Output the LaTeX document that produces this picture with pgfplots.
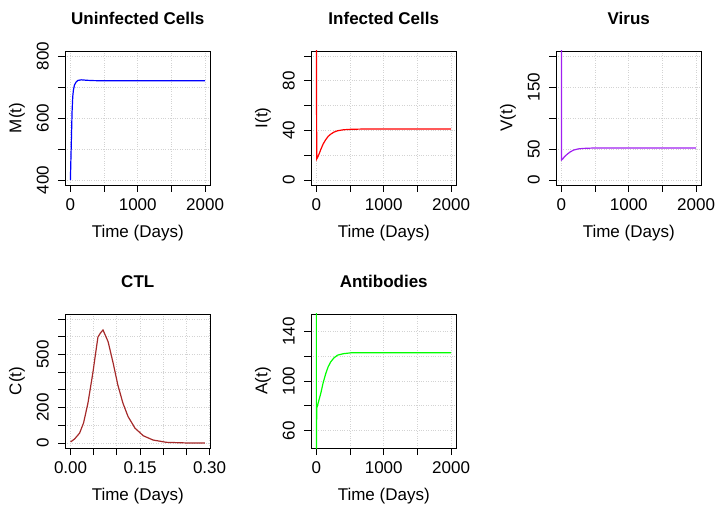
\documentclass[border=0pt]{standalone}
\usepackage{fontspec}
\setmainfont{Liberation Sans}
\usepackage{pgfplots}
\pgfplotsset{compat=1.18}
\definecolor{Rpurple}{HTML}{A020F0}
\definecolor{Rbrown}{HTML}{A52A2A}
\definecolor{Rgreen}{HTML}{00FF00}
\definecolor{Rgrid}{HTML}{D3D3D3}

\pgfplotsset{
  rpanel/.style={
    scale only axis, width=145.5bp, height=134bp,
    axis line style={black, line width=0.9bp},
    every tick/.style={black, line width=0.9bp},
    major tick length=7bp, tick align=outside,
    xtick pos=bottom, ytick pos=left,
    grid=major, grid style={Rgrid, dotted, line width=0.8bp},
    tick label style={font=\fontsize{17bp}{20bp}\selectfont},
    label style={font=\fontsize{17bp}{20bp}\selectfont},
    title style={font=\fontsize{17bp}{20bp}\selectfont\bfseries,
      at={(axis description cs:0.5,1.2)}, anchor=center},
    xlabel style={at={(axis description cs:0.5,-0.358)}, anchor=center},
    ylabel style={at={(axis description cs:-0.33,0.5)}, anchor=center},
    yticklabel style={xshift=-9bp, rotate=90, anchor=south, inner sep=0pt},
    xticklabel style={anchor=north, inner sep=0pt, yshift=-6bp},
    xlabel={Time (Days)},
    xmin=-80, xmax=2080,
    xtick={0,500,1000,1500,2000}, xticklabels={0,,1000,,2000},
    clip=true,
  }
}

\begin{document}
\begin{tikzpicture}
\path[use as bounding box] (0,0) rectangle (717bp,510bp);

% uninfected cells
\begin{axis}[rpanel, at={(65bp,325bp)}, anchor=south west,
  title={Uninfected Cells}, ylabel={M(t)},
  ymin=384, ymax=816,
  ytick={400,500,600,700,800}, yticklabels={400,,600,,800}]
\addplot[blue, line width=1.2bp] coordinates {
  (0,400)(8,470)(15,531)(25,620)(35,669)(45,690)(60,706)(85,716)(110,721)
  (160,723)(250,721.5)(350,720.5)(500,720)(1000,720)(2000,720)};
\end{axis}

% infected cells
\begin{axis}[rpanel, at={(311bp,325bp)}, anchor=south west,
  title={Infected Cells}, ylabel={I(t)},
  ymin=-4, ymax=104,
  ytick={0,20,40,60,80,100}, yticklabels={0,,40,,80,}]
\addplot[red, line width=1.2bp] coordinates {
  (0,110)(5,17)(20,18.5)(40,21)(65,24.6)(100,29)(139,32.6)(175,35.2)(214,37)
  (260,38.6)(313,39.7)(400,40.5)(512,40.9)(700,41.1)(2000,41.1)};
\end{axis}

% virus
\begin{axis}[rpanel, at={(556bp,325bp)}, anchor=south west,
  title={Virus}, ylabel={V(t)},
  ymin=-8, ymax=208,
  ytick={0,50,100,150,200}, yticklabels={0,50,,150,}]
\addplot[Rpurple, line width=1.2bp] coordinates {
  (0,215)(3,32.4)(20,34)(45,37.5)(85,41.5)(130,45.3)(184,48.4)(250,50.2)
  (333,51)(450,51.5)(600,51.6)(2000,51.6)};
\end{axis}

% CTL
\begin{axis}[rpanel, at={(65bp,62bp)}, anchor=south west,
  title={CTL}, ylabel={C(t)},
  xmin=-0.012, xmax=0.302,
  xtick={0,0.05,0.10,0.15,0.20,0.25,0.30},
  xticklabels={0.00,,,0.15,,,0.30},
  ymin=-28, ymax=728,
  ytick={0,100,200,300,400,500,600,700}, yticklabels={0,,200,,,500,,}]
\addplot[Rbrown, line width=1.2bp] coordinates {
  (0,6)(0.0087,23)(0.0195,56)(0.028,113)(0.0375,225)(0.048,394)(0.059,597)
  (0.064,619)(0.070,638)(0.081,572)(0.092,450)(0.102,328)(0.113,225)
  (0.124,150)(0.139,84)(0.157,41)(0.178,17)(0.207,4)(0.25,0.5)(0.29,0)};
\end{axis}

% antibodies
\begin{axis}[rpanel, at={(311bp,62bp)}, anchor=south west,
  title={Antibodies}, ylabel={A(t)},
  ymin=46, ymax=154,
  ytick={60,80,100,120,140}, yticklabels={60,,100,,140}]
\addplot[Rgreen, line width=1.2bp] coordinates {
  (0,160)(0,40)(5,78)(30,83)(65,90)(100,98.5)(139,106)(175,111.5)(214,115.5)
  (260,118.6)(313,120.8)(400,122)(512,122.7)(2000,122.7)};
\end{axis}
\end{tikzpicture}
\end{document}
